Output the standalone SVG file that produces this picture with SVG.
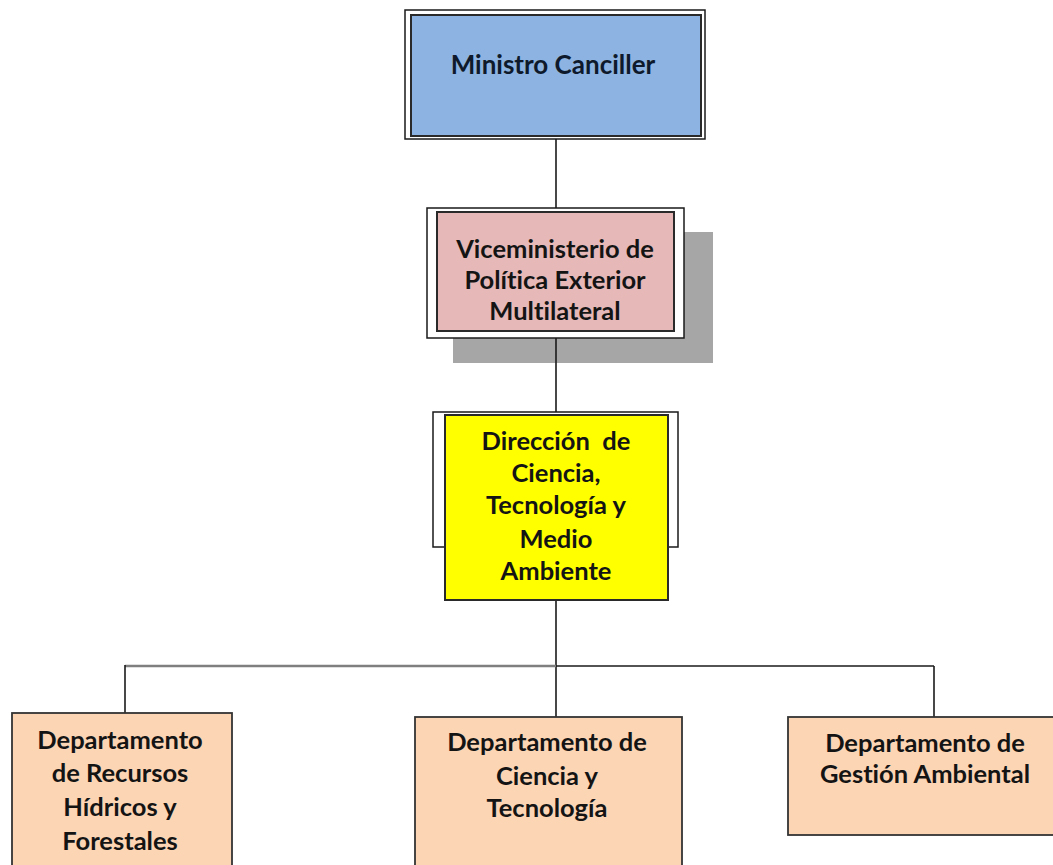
<svg xmlns="http://www.w3.org/2000/svg" width="1053" height="865" viewBox="0 0 1053 865">
<style>
.t{font-family:Lato,"Open Sans","DejaVu Sans",sans-serif;font-weight:bold;font-size:25.5px;fill:#141414;text-anchor:middle;white-space:pre;font-variant-ligatures:none;font-feature-settings:"liga" 0}
.outer{fill:#fff;stroke:#1a1a1a;stroke-width:1.5}
.inner{stroke:#2a2a2a;stroke-width:2}
.dept{fill:#fcd5b5;stroke:#333;stroke-width:1.8}
.ln{stroke:#1a1a1a;stroke-width:1.6;fill:none}
</style>
<rect width="1053" height="865" fill="#fff"/>
<g id="connectors">
<line class="ln" x1="556" y1="139" x2="556" y2="208"/>
<line class="ln" x1="556" y1="338" x2="556" y2="412"/>
<line class="ln" x1="556" y1="600" x2="556" y2="717"/>
<line x1="125" y1="666" x2="556" y2="666" stroke="#7f7f7f" stroke-width="2.6"/>
<line class="ln" x1="556" y1="666" x2="934" y2="666"/>
<line class="ln" x1="125" y1="665" x2="125" y2="713"/>
<line class="ln" x1="934" y1="666" x2="934" y2="717"/>
</g>
<g id="ministro">
<rect class="outer" x="405" y="10" width="300" height="129"/>
<rect class="inner" x="411" y="15" width="290" height="121" fill="#8db3e2"/>
<text class="t" x="553" y="74" style="font-size:26px;fill:#0e1a2b">Ministro Canciller</text>
</g>
<g id="viceministerio">
<rect x="453" y="232" width="260" height="131" fill="#a6a6a6"/>
<rect class="outer" x="427" y="208" width="257" height="130"/>
<rect class="inner" x="437" y="212" width="237" height="119" fill="#e6b9b8"/>
<line class="ln" x1="556" y1="338" x2="556" y2="363"/>
<text class="t" x="555" y="258">Viceministerio de</text>
<text class="t" x="555" y="289">Política Exterior</text>
<text class="t" x="555" y="320">Multilateral</text>
</g>
<g id="direccion">
<rect class="outer" x="433" y="412" width="245" height="135"/>
<rect class="inner" x="445" y="415" width="223" height="185" fill="#ffff00"/>
<text class="t" x="556" y="450">Dirección  de</text>
<text class="t" x="556" y="482">Ciencia,</text>
<text class="t" x="556" y="514">Tecnología y</text>
<text class="t" x="556" y="548">Medio</text>
<text class="t" x="556" y="580">Ambiente</text>
</g>
<g id="dept-recursos">
<rect class="dept" x="12" y="713" width="220" height="160"/>
<text class="t" x="120" y="749">Departamento</text>
<text class="t" x="120" y="782">de Recursos</text>
<text class="t" x="120" y="816">Hídricos y</text>
<text class="t" x="120" y="850">Forestales</text>
</g>
<g id="dept-ciencia">
<rect class="dept" x="415" y="717" width="267" height="160"/>
<text class="t" x="547" y="751">Departamento de</text>
<text class="t" x="547" y="785">Ciencia y</text>
<text class="t" x="547" y="817">Tecnología</text>
</g>
<g id="dept-gestion">
<rect class="dept" x="788" y="717" width="280" height="118"/>
<text class="t" x="925" y="752">Departamento de</text>
<text class="t" x="925" y="783">Gestión Ambiental</text>
</g>
</svg>
